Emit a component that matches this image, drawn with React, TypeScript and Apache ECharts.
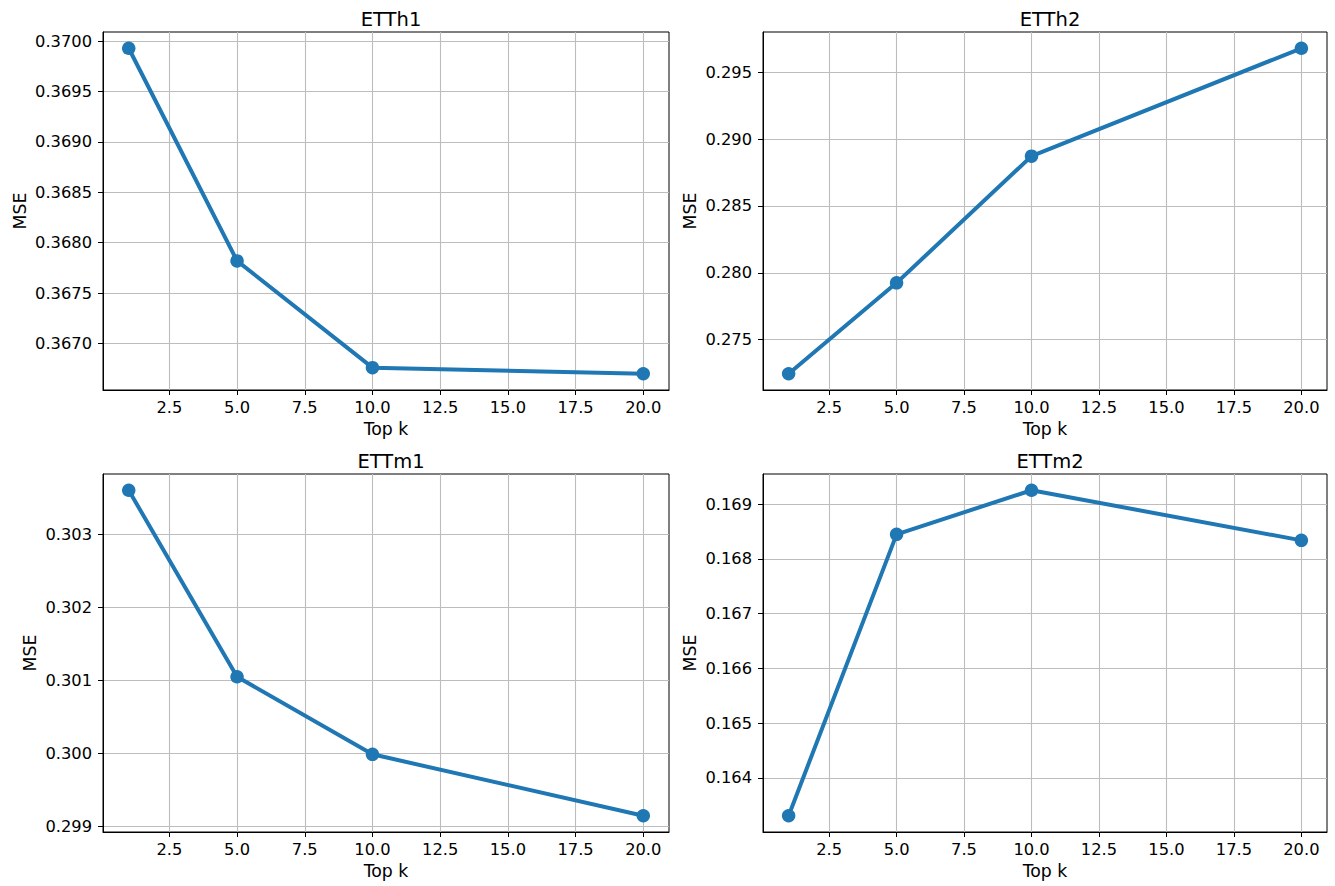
import React, { useEffect, useRef } from "react";
import * as echarts from "echarts";

const xValues = [1, 5, 10, 20];
const xTicks = [2.5, 5, 7.5, 10, 12.5, 15, 17.5, 20];

const titles = ["ETTh1", "ETTh2", "ETTm1", "ETTm2"];
const etth1 = [0.36993, 0.36782, 0.36676, 0.3667];
const etth2 = [0.27245, 0.27925, 0.28873, 0.2968];
const ettm1 = [0.3036, 0.30105, 0.29999, 0.29915];
const ettm2 = [0.16331, 0.16845, 0.169255, 0.16834];

const etth1Ticks = [0.367, 0.3675, 0.368, 0.3685, 0.369, 0.3695, 0.37];
const etth2Ticks = [0.275, 0.28, 0.285, 0.29, 0.295];
const ettm1Ticks = [0.299, 0.3, 0.301, 0.302, 0.303];
const ettm2Ticks = [0.164, 0.165, 0.166, 0.167, 0.168, 0.169];
const decimals = [4, 3, 3, 3];

const FONT = "DejaVu Sans";
const BLUE = "#1f77b4";

export default function App() {
  const ref = useRef<HTMLDivElement>(null);
  useEffect(() => {
    if (!ref.current) return;
    const chart = echarts.init(ref.current, null, { renderer: "svg" });
    const seriesData = [etth1, etth2, ettm1, ettm2];
    const yTicks = [etth1Ticks, etth2Ticks, ettm1Ticks, ettm2Ticks];
    const grids = [
      { left: 103, top: 32, width: 566, height: 358 },
      { left: 763, top: 32, width: 564, height: 358 },
      { left: 103, top: 474, width: 566, height: 358 },
      { left: 763, top: 474, width: 564, height: 358 },
    ];
    const yNameGaps = [75, 65, 65, 65];
    const margin = (arr: number[]) => {
      const mn = Math.min(...arr);
      const mx = Math.max(...arr);
      const pad = (mx - mn) * 0.05;
      return [mn - pad, mx + pad];
    };
    const xr = margin(xValues);
    const option: any = {
      animation: false,
      backgroundColor: "#fff",
      textStyle: { fontFamily: FONT },
      title: grids.map((g, i) => ({
        text: titles[i],
        left: g.left + g.width / 2,
        top: g.top - 28,
        textAlign: "center",
        textStyle: { fontFamily: FONT, fontSize: 19.5, fontWeight: "normal", color: "#000" },
      })),
      grid: grids.map((g) => ({
        ...g,
        show: true,
        borderColor: "#000",
        borderWidth: 1,
        backgroundColor: "transparent",
        containLabel: false,
      })),
      xAxis: grids.map((g, i) => ({
        type: "value",
        gridIndex: i,
        min: xr[0],
        max: xr[1],
        name: "Top k",
        nameLocation: "middle",
        nameGap: 30,
        nameTextStyle: { fontFamily: FONT, fontSize: 17.3, color: "#000" },
        axisLine: { show: true, lineStyle: { color: "#000", width: 1 } },
        axisTick: { show: true, length: 5, lineStyle: { color: "#000", width: 1 }, customValues: xTicks },
        axisLabel: {
          customValues: xTicks,
          margin: 9,
          fontFamily: FONT,
          fontSize: 16.3,
          color: "#000",
          formatter: (v: number) => v.toFixed(1),
        },
        splitLine: { show: true, lineStyle: { color: "#bdbdbd", width: 1.1 } },
      })),
      yAxis: grids.map((g, i) => {
        const r = margin(seriesData[i]);
        return {
          type: "value",
          gridIndex: i,
          min: r[0],
          max: r[1],
          name: "MSE",
          nameLocation: "middle",
          nameGap: yNameGaps[i],
          nameTextStyle: { fontFamily: FONT, fontSize: 17.3, color: "#000" },
          axisLine: { show: true, lineStyle: { color: "#000", width: 1 } },
          axisTick: { show: true, length: 5, lineStyle: { color: "#000", width: 1 }, customValues: yTicks[i] },
          axisLabel: {
            customValues: yTicks[i],
            margin: 11,
            fontFamily: FONT,
            fontSize: 16.3,
            color: "#000",
            formatter: (v: number) => v.toFixed(decimals[i]),
          },
          splitLine: { show: true, lineStyle: { color: "#bdbdbd", width: 1.1 } },
        };
      }),
      series: seriesData.map((d, i) => ({
        type: "line",
        xAxisIndex: i,
        yAxisIndex: i,
        data: xValues.map((x, j) => [x, d[j]]),
        symbol: "circle",
        symbolSize: 13.5,
        showSymbol: true,
        lineStyle: { color: BLUE, width: 4 },
        itemStyle: { color: BLUE },
      })),
    };
    chart.setOption(option);
    return () => chart.dispose();
  }, []);
  return (
    <div
      ref={ref}
      style={{ position: "absolute", left: 0, top: 0, width: 1335, height: 886 }}
    />
  );
}
